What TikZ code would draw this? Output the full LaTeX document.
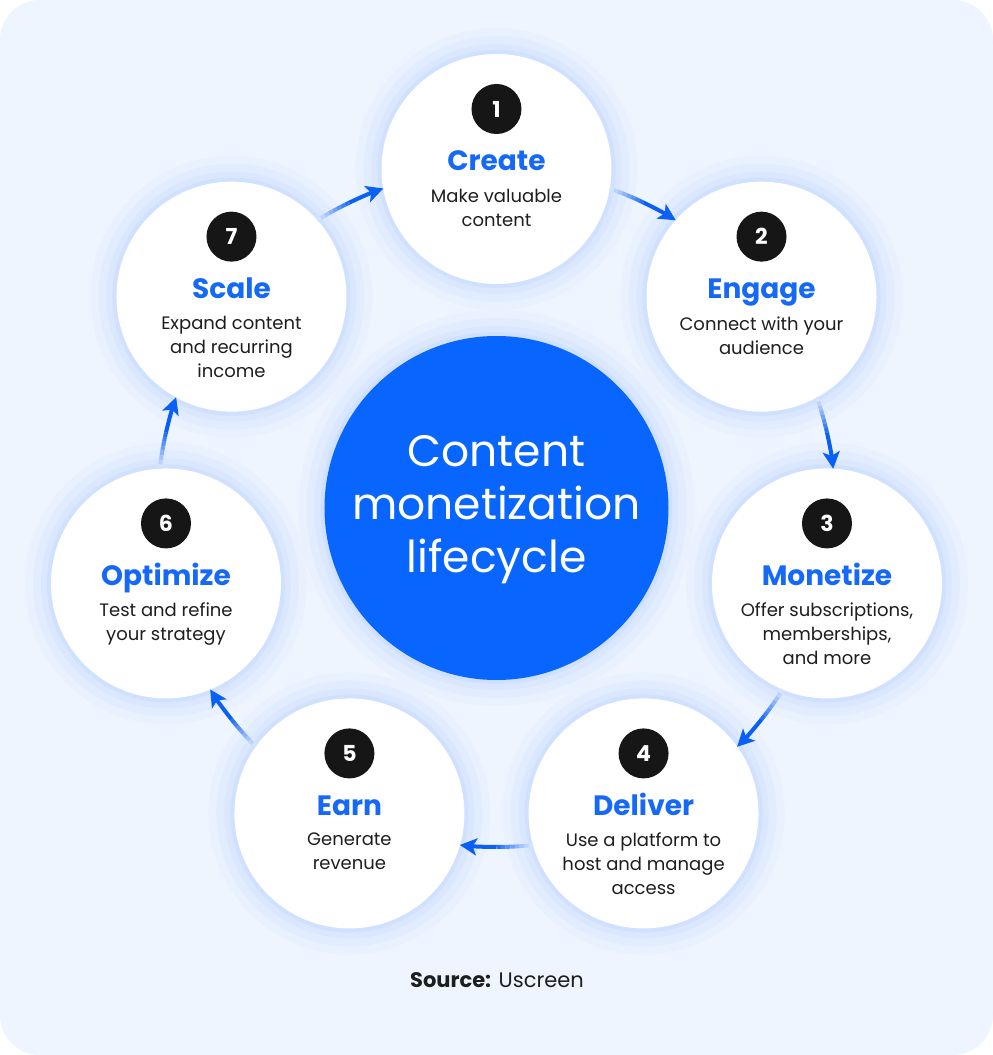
\documentclass[tikz,border=0pt]{standalone}
\usepackage{fontspec}
\setmainfont{Poppins}
\usetikzlibrary{arrows.meta,calc}
\definecolor{bg}{HTML}{EEF5FF}
\definecolor{hubblue}{HTML}{0866FF}
\definecolor{ttlblue}{HTML}{1669F7}
\definecolor{arrblue}{HTML}{0A5FF5}
\definecolor{ink}{HTML}{1E1E1E}
\definecolor{numfill}{HTML}{161616}
\definecolor{haloA}{HTML}{E9F1FF}
\definecolor{haloB}{HTML}{E2ECFF}
\definecolor{haloC}{HTML}{DAE7FF}
\definecolor{haloD}{HTML}{D0E0FF}
\tikzset{
  stage/.style={circle, fill=white, minimum size=230pt, inner sep=0pt},
  hubnode/.style={circle, fill=hubblue, minimum size=344pt, inner sep=0pt},
  hubtext/.style={inner sep=0pt, text=white, align=center, font=\fontsize{44}{53}\selectfont},
  num/.style={circle, fill=numfill, minimum size=50pt, inner sep=0pt, text=white,
    font=\fontsize{22}{22}\selectfont\bfseries},
  ttl/.style={anchor=base, inner sep=0pt, text=ttlblue, font=\fontsize{28}{30}\selectfont\bfseries},
  dsc/.style={anchor=north, inner sep=0pt, text=ink, align=center, font=\fontsize{18}{24}\selectfont},
  src/.style={anchor=base, inner sep=0pt, text=ink, font=\fontsize{21}{24}\selectfont},
  arr/.style={line width=4pt, arrblue},
}
\newcommand{\stagelabel}[3]{%
  \node[num] (num#1) at ($(c#1)+(0,60)$) {#1};
  \node[ttl] (ttl#1) at ($(c#1)+(0,-2)$) {#2};
  \node[dsc] (dsc#1) at ($(c#1)+(0,-19.5)$) {#3};
}
\begin{document}
\begin{tikzpicture}[x=1pt,y=1pt]
\useasboundingbox (-496.5,-547) rectangle (496.5,508);
\fill[white] (-496.5,-547) rectangle (496.5,508);
\fill[bg, rounded corners=40pt] (-496.5,-547) rectangle (496.5,508);

\coordinate (hub) at (0,0);
\foreach \i in {1,...,7} {
  \coordinate (c\i) at ({90-51.4286*(\i-1)}:339);
}
% halos
\foreach \r/\c in {26/haloA, 18/haloB, 10/haloC, 4/haloD} {
  \foreach \i in {1,...,7} { \fill[\c] (c\i) circle ({115+\r}); }
  \fill[\c] (hub) circle ({172+\r});
}
% circles
\foreach \i in {1,...,7} { \node[stage] (n\i) at (c\i) {}; }
\node[hubnode] (core) at (hub) {};
\node[hubtext] (corelabel) at ($(hub)+(0,-2)$) {Content\\monetization\\lifecycle};

% arrows (clockwise, along the ring)
\foreach \i [evaluate=\i as \s using {90-51.4286*(\i-1)-19.5},
             evaluate=\i as \e using {90-51.4286*\i+19.5}] in {1,...,7} {
  \pgfmathsetmacro{\d}{\s-\e}
  \foreach \k in {1,...,8} {
    \pgfmathsetmacro{\aa}{\s-(\k-1)*\d/16}
    \pgfmathsetmacro{\bb}{\s-\k*\d/16}
    \pgfmathtruncatemacro{\pc}{\k*11}
    \draw[line width=4pt, arrblue!\pc!bg] ($(hub)+(\aa:339)$) arc[start angle=\aa, end angle=\bb, radius=339];
  }
  \pgfmathsetmacro{\mm}{\s-\d/2}
  \draw[arr, -{Stealth[length=17pt,width=17pt,inset=4pt]}] ($(hub)+(\mm:339)$) arc[start angle=\mm, end angle=\e, radius=339];
}

\stagelabel{1}{Create}{Make valuable\\content}
\stagelabel{2}{Engage}{Connect with your\\audience}
\stagelabel{3}{Monetize}{Offer subscriptions,\\memberships,\\and more}
\stagelabel{4}{Deliver}{Use a platform to\\host and manage\\access}
\stagelabel{5}{Earn}{Generate\\revenue}
\stagelabel{6}{Optimize}{Test and refine\\your strategy}
\stagelabel{7}{Scale}{Expand content\\and recurring\\income}

\node[src] (source) at (0.5,-479.5) {\textbf{Source:} Uscreen};
\end{tikzpicture}
\end{document}
